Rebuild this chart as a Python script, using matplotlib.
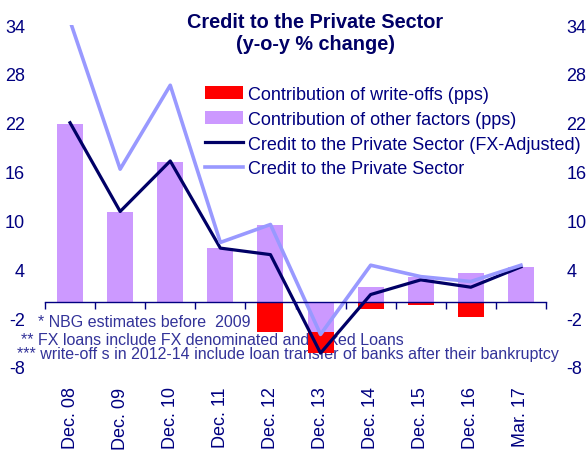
import matplotlib.pyplot as plt
import numpy as np

plt.rcParams['font.family'] = ['Liberation Sans', 'DejaVu Sans']
plt.rcParams['axes.unicode_minus'] = False

categories = ['Dec. 08', 'Dec. 09', 'Dec. 10', 'Dec. 11', 'Dec. 12',
              'Dec. 13', 'Dec. 14', 'Dec. 15', 'Dec. 16', 'Mar. 17']
other_factors = [21.8, 11.0, 17.2, 6.6, 9.5, -3.7, 1.8, 3.0, 3.6, 4.3]
write_offs = [0, 0, 0, 0, -3.7, -2.6, -0.9, -0.4, -1.9, 0]
credit_fx_adj = [22.0, 11.1, 17.3, 6.6, 5.8, -6.3, 0.9, 2.7, 1.8, 4.3]
credit_total = [34.5, 16.3, 26.6, 7.3, 9.5, -4.0, 4.5, 3.1, 2.5, 4.5]
yticks = [-8, -2, 4, 10, 16, 22, 28, 34]

navy = '#000080'
x = np.arange(len(categories))
other = np.array(other_factors)
wo_bottom = np.minimum(other, 0)

fig = plt.figure(figsize=(5.86, 4.52), dpi=100)
ax = fig.add_axes([45 / 586, 1 - 368 / 452, 501 / 586, 342 / 452])

b1 = ax.bar(x, write_offs, bottom=wo_bottom, width=0.52, color='#FF0000', zorder=3,
            label='Contribution of write-offs (pps)')
b2 = ax.bar(x, other_factors, width=0.52, color='#CC99FF', zorder=3,
            label='Contribution of other factors (pps)')
l1, = ax.plot(x, credit_fx_adj, color='#000066', lw=2.3, zorder=4,
              label='Credit to the Private Sector (FX-Adjusted)')
l2, = ax.plot(x, credit_total, color='#9999FF', lw=2.6, zorder=4,
              label='Credit to the Private Sector')

ax.set_xlim(-0.5, len(categories) - 0.5)
ax.set_ylim(-8, 34)
ax.set_yticks(yticks)
ax.set_xticks(x)
ax.set_xticklabels(categories, rotation=90, fontsize=13, color=navy)
ax.tick_params(axis='x', length=0, pad=14)
ax.tick_params(axis='y', left=False, right=False, labelleft=True,
               labelright=True, labelsize=13, labelcolor=navy, pad=11)
for s in ax.spines.values():
    s.set_visible(False)

# zero line with category boundary ticks
ax2 = ax.twiny()
ax2.set_xlim(ax.get_xlim())
for s in ax2.spines.values():
    s.set_visible(False)
ax2.spines['bottom'].set_visible(True)
ax2.spines['bottom'].set_position(('data', 0))
ax2.spines['bottom'].set_color(navy)
ax2.spines['bottom'].set_linewidth(1)
ax2.xaxis.set_ticks_position('bottom')
ax2.set_xticks(np.arange(len(categories) + 1) - 0.5)
ax2.set_xticklabels([])
ax2.tick_params(axis='x', direction='out', length=5, width=1, color=navy)

notes = ['* NBG estimates before  2009',
         '** FX loans include FX denominated and linked Loans',
         '*** write-off s in 2012-14 include loan transfer of banks after their bankruptcy']
note_pos = [(38, 323), (21, 341), (17, 355)]
for txt, (px, py) in zip(notes, note_pos):
    ax.text(px / 586, 1 - py / 452, txt, transform=fig.transFigure, fontsize=11.5,
            color='#333399', va='center', zorder=2)

fig.text(315 / 586, 1 - 23 / 452, 'Credit to the Private Sector', fontsize=14.3,
         fontweight='bold', color='#000066', ha='center', va='center')
fig.text(315 / 586, 1 - 45 / 452, '(y-o-y % change)', fontsize=14.3,
         fontweight='bold', color='#000066', ha='center', va='center')

leg = ax.legend([b1, b2, l1, l2], [h.get_label() for h in (b1, b2, l1, l2)],
                loc='upper left', bbox_to_anchor=(205 / 586, 1 - 87 / 452),
                bbox_transform=fig.transFigure, frameon=False, fontsize=13,
                handlelength=2.1, handletextpad=0.28, labelspacing=0.43,
                borderaxespad=0, borderpad=0)
for t in leg.get_texts():
    t.set_color(navy)

fig.savefig('out.png', dpi=100)
